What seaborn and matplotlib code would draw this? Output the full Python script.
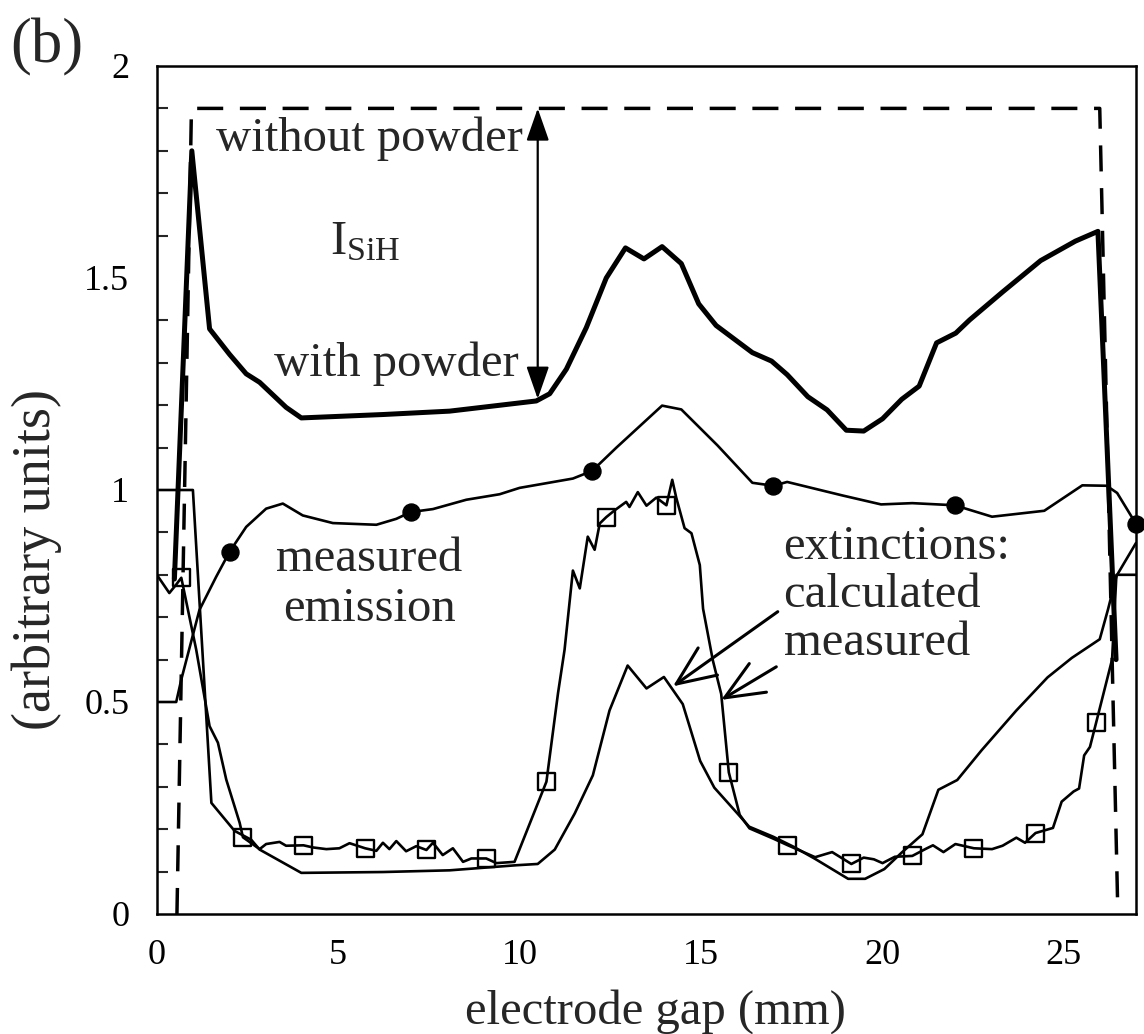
import numpy as np
import pandas as pd
import matplotlib
matplotlib.use("Agg")
import matplotlib.pyplot as plt
import seaborn as sns
from matplotlib.ticker import MultipleLocator, FixedLocator

# --- data (electrode gap in mm, intensity in arbitrary units) ---
# SiH emission without powder (dashed box)
nopow_x = [0.55, 0.95, 26.0, 26.5]
nopow_y = [0.0, 1.9, 1.9, 0.0]

# SiH emission with powder (thick line)
pow_x = [0.48, 0.96, 1.45, 2.0, 2.46, 2.83, 3.56, 3.98, 6.23, 8.07, 10.46, 10.83,
         11.29, 11.84, 12.39, 12.92, 13.43, 13.93, 14.46, 14.94, 15.42, 16.42,
         16.95, 17.38, 17.95, 18.48, 19.01, 19.49, 20.01, 20.54, 21.02, 21.5,
         22.03, 22.41, 23.32, 24.37, 25.33, 25.95, 26.45]
pow_y = [0.79, 1.80, 1.38, 1.32, 1.274, 1.254, 1.195, 1.17, 1.178, 1.186, 1.21, 1.227,
         1.285, 1.383, 1.5, 1.571, 1.545, 1.574, 1.534, 1.439, 1.388, 1.324,
         1.304, 1.272, 1.22, 1.189, 1.141, 1.139, 1.168, 1.214, 1.245, 1.347,
         1.37, 1.401, 1.467, 1.541, 1.587, 1.61, 0.6]

# measured emission (thin line, dots every 5 mm)
emis_x = [0, 0.53, 0.67, 1.17, 1.63, 2.0, 2.46, 3.01, 3.47, 4.02, 4.85, 6.05, 6.6,
          7.0, 7.61, 8.53, 9.45, 10.0, 11.47, 12.0, 12.67, 13.93, 14.46, 15.46,
          16.42, 17.0, 17.38, 18.91, 19.97, 20.83, 22.0, 23.03, 24.47, 25.52,
          26.19, 26.48, 27.0]
emis_y = [0.5, 0.5, 0.553, 0.717, 0.795, 0.854, 0.913, 0.956, 0.968, 0.94, 0.922,
          0.918, 0.932, 0.948, 0.955, 0.977, 0.99, 1.005, 1.027, 1.045, 1.1, 1.199,
          1.19, 1.105, 1.017, 1.01, 1.019, 0.987, 0.966, 0.969, 0.964, 0.937,
          0.951, 1.011, 1.01, 0.993, 0.92]
emis_dot_x = [2, 7, 12, 17, 22, 27]
emis_dot_y = [0.854, 0.948, 1.045, 1.01, 0.964, 0.92]

# measured extinction (jagged line, open squares)
mext_x = [0, 0.02, 0.34, 0.53, 0.67, 1.08, 1.45, 1.68, 1.91, 2.28, 2.37, 2.83, 3.01,
          3.38, 3.56, 4.04, 4.3, 4.67, 5.03, 5.31, 5.74, 6.05, 6.23, 6.41, 6.6,
          6.87, 7.15, 7.43, 7.61, 7.88, 8.16, 8.44, 8.67, 9.08, 9.36, 9.86, 10.74,
          11.06, 11.24, 11.47, 11.66, 11.88, 12.07, 12.21, 12.39, 12.62, 12.94,
          13.03, 13.26, 13.5, 13.77, 14.05, 14.21, 14.32, 14.55, 14.74, 14.97,
          15.06, 15.33, 15.56, 15.77, 16.07, 16.34, 16.99, 17.4, 18.15, 18.62,
          19.15, 19.49, 19.77, 20.01, 20.35, 20.83, 21.21, 21.4, 21.69, 22.02,
          22.53, 23.03, 23.32, 23.7, 23.94, 24.23, 24.71, 24.95, 25.28, 25.43,
          25.57, 25.73, 25.9, 26.34, 26.46, 27.0]
mext_y = [0.8, 0.797, 0.757, 0.777, 0.793, 0.624, 0.443, 0.404, 0.317, 0.215, 0.181,
          0.153, 0.165, 0.17, 0.161, 0.162, 0.157, 0.153, 0.155, 0.167, 0.155,
          0.149, 0.168, 0.153, 0.172, 0.148, 0.16, 0.151, 0.168, 0.139, 0.155,
          0.123, 0.131, 0.131, 0.12, 0.123, 0.312, 0.521, 0.623, 0.81, 0.768,
          0.89, 0.859, 0.921, 0.936, 0.952, 0.972, 0.96, 0.995, 0.963, 0.982,
          0.964, 1.024, 0.982, 0.91, 0.898, 0.823, 0.72, 0.598, 0.519, 0.334,
          0.234, 0.202, 0.178, 0.162, 0.134, 0.146, 0.118, 0.133, 0.129, 0.12,
          0.135, 0.137, 0.154, 0.162, 0.146, 0.165, 0.155, 0.153, 0.161, 0.18,
          0.168, 0.191, 0.203, 0.265, 0.289, 0.296, 0.374, 0.394, 0.451, 0.6,
          0.8, 0.8]
mext_sq_x = [0.67, 2.37, 4.04, 5.74, 7.43, 9.08, 10.74, 12.39, 14.05, 15.77, 17.4,
             19.15, 20.83, 22.53, 24.23, 25.9]
mext_sq_y = [0.793, 0.181, 0.162, 0.155, 0.151, 0.131, 0.312, 0.936, 0.964, 0.334,
             0.162, 0.118, 0.137, 0.155, 0.191, 0.451]

# calculated extinction (thin smooth line)
cext_x = [0, 0.99, 1.5, 2.14, 2.6, 2.83, 3.98, 6.23, 8.07, 9.91, 10.5, 10.97, 11.52,
          12.02, 12.48, 12.98, 13.5, 13.98, 14.5, 14.98, 15.37, 16.04, 16.33, 17.0,
          17.57, 18.15, 19.06, 19.53, 20.06, 20.54, 21.11, 21.55, 22.07, 22.74,
          23.7, 24.56, 25.23, 26.0, 26.23, 26.46, 27.0]
cext_y = [1.0, 1.0, 0.262, 0.196, 0.175, 0.152, 0.097, 0.099, 0.103, 0.115, 0.118,
          0.152, 0.237, 0.327, 0.48, 0.586, 0.532, 0.559, 0.495, 0.361, 0.298,
          0.234, 0.206, 0.182, 0.158, 0.13, 0.083, 0.083, 0.106, 0.145, 0.188,
          0.293, 0.316, 0.386, 0.48, 0.558, 0.604, 0.648, 0.719, 0.797, 0.875]

x_ticks = [0, 5, 10, 15, 20, 25]
x_tick_labels = ["0", "5", "10", "15", "20", "25"]
y_ticks = [0, 0.5, 1, 1.5, 2]
y_tick_labels = ["0", "0.5", "1", "1.5", "2"]

# --- style ---
sns.set_theme(style="white")
plt.rcParams["font.family"] = ["Liberation Serif", "DejaVu Serif"]
plt.rcParams["mathtext.fontset"] = "custom"
plt.rcParams["mathtext.rm"] = "Liberation Serif"

fig = plt.figure(figsize=(11.44, 10.34), dpi=100)
ax = fig.add_axes([157 / 1144, 1 - 914 / 1034, (1136 - 157) / 1144, (914 - 66) / 1034])

thin = 1.9
sns.lineplot(x=nopow_x, y=nopow_y, ax=ax, color="black", lw=2.5, sort=False,
             estimator=None, linestyle=(0, (7.5, 4.8)))
sns.lineplot(x=pow_x, y=pow_y, ax=ax, color="black", lw=3.6, sort=False, estimator=None)
sns.lineplot(x=emis_x, y=emis_y, ax=ax, color="black", lw=thin, sort=False, estimator=None)
sns.lineplot(x=cext_x, y=cext_y, ax=ax, color="black", lw=thin, sort=False, estimator=None)
sns.lineplot(x=mext_x, y=mext_y, ax=ax, color="black", lw=thin, sort=False, estimator=None)
sns.scatterplot(x=emis_dot_x, y=emis_dot_y, ax=ax, color="black", s=150,
                marker="o", edgecolor="black", zorder=5, clip_on=False)
sns.scatterplot(x=mext_sq_x, y=mext_sq_y, ax=ax, s=150, marker="s",
                facecolor="none", edgecolor="black", linewidth=1.7, zorder=5)

ax.set_xlim(0, 27)
ax.set_ylim(0, 2)
ax.set_xlabel("")
ax.set_ylabel("")

ax.xaxis.set_major_locator(FixedLocator(x_ticks))
ax.set_xticklabels(x_tick_labels)
ax.yaxis.set_major_locator(FixedLocator(y_ticks))
ax.set_yticklabels(y_tick_labels)
ax.yaxis.set_minor_locator(MultipleLocator(0.1))
ax.tick_params(axis="both", which="major", direction="in", length=13.5, width=1.5,
               labelsize=26, colors="black", top=False, right=False)
ax.tick_params(axis="x", which="major", pad=18)
ax.tick_params(axis="y", which="major", pad=20)
ax.tick_params(axis="y", which="minor", direction="in", length=8, width=1.5,
               left=True, right=False)
for sp in ax.spines.values():
    sp.set_linewidth(1.8)
    sp.set_color("black")

# --- annotations ---
fs = 35
ax.text(1.63, 1.80, "without powder", fontsize=fs, ha="left", va="baseline")
ax.text(4.76, 1.556, r"$\mathregular{I_{SiH}}$", fontsize=fs, ha="left", va="baseline")
ax.text(3.24, 1.27, "with powder", fontsize=fs, ha="left", va="baseline")
ax.text(5.86, 0.81, "measured", fontsize=fs, ha="center", va="baseline")
ax.text(5.86, 0.692, "emission", fontsize=fs, ha="center", va="baseline")
ax.text(17.28, 0.838, "extinctions:", fontsize=fs, ha="left", va="baseline")
ax.text(17.28, 0.723, "calculated", fontsize=fs, ha="left", va="baseline")
ax.text(17.28, 0.61, "measured", fontsize=fs, ha="left", va="baseline")

ax.annotate("", xy=(10.5, 1.9), xytext=(10.5, 1.215),
            arrowprops=dict(arrowstyle="<|-|>,head_length=0.4,head_width=0.14",
                            mutation_scale=50, lw=1.6, color="black",
                            shrinkA=0, shrinkB=0))
ax.annotate("", xy=(14.23, 0.537), xytext=(17.12, 0.713),
            arrowprops=dict(arrowstyle="->,head_length=0.7,head_width=0.3",
                            mutation_scale=40, lw=2.2, color="black",
                            shrinkA=0, shrinkB=0))
ax.annotate("", xy=(15.56, 0.505), xytext=(17.08, 0.583),
            arrowprops=dict(arrowstyle="->,head_length=0.7,head_width=0.3",
                            mutation_scale=40, lw=2.2, color="black",
                            shrinkA=0, shrinkB=0))

fig.text(655 / 1144, 1 - 1012 / 1034, "electrode gap (mm)", fontsize=35,
         ha="center", va="center")
fig.text(37 / 1144, 1 - 560 / 1034, "(arbitrary units)", fontsize=39,
         ha="center", va="center", rotation=90)
fig.text(10 / 1144, 1 - 47 / 1034, "(b)", fontsize=45, ha="left", va="center")

fig.savefig("out.png", dpi=100)
